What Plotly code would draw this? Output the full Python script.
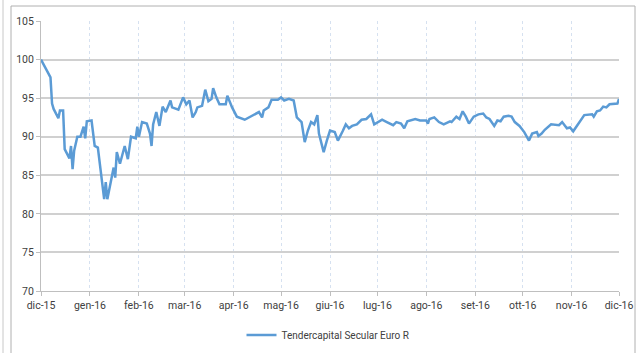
import plotly.graph_objects as go

dates = [
    "2015-12-01", "2015-12-03", "2015-12-06", "2015-12-07", "2015-12-08", "2015-12-09",
    "2015-12-12", "2015-12-13", "2015-12-15", "2015-12-16", "2015-12-19", "2015-12-20",
    "2015-12-21", "2015-12-22", "2015-12-24", "2015-12-26", "2015-12-28", "2015-12-29",
    "2015-12-30", "2016-01-02", "2016-01-04", "2016-01-06", "2016-01-10", "2016-01-11",
    "2016-01-12", "2016-01-14", "2016-01-16", "2016-01-17", "2016-01-18", "2016-01-20",
    "2016-01-23", "2016-01-25", "2016-01-27", "2016-01-30", "2016-01-31", "2016-02-01",
    "2016-02-03", "2016-02-06", "2016-02-08", "2016-02-09", "2016-02-10", "2016-02-12",
    "2016-02-14", "2016-02-16", "2016-02-18", "2016-02-21", "2016-02-22", "2016-02-26",
    "2016-02-29", "2016-03-02", "2016-03-04", "2016-03-06", "2016-03-08", "2016-03-09",
    "2016-03-12", "2016-03-14", "2016-03-16", "2016-03-18", "2016-03-19", "2016-03-21",
    "2016-03-23", "2016-03-27", "2016-03-28", "2016-03-31", "2016-04-03", "2016-04-08",
    "2016-04-13", "2016-04-17", "2016-04-19", "2016-04-20", "2016-04-23", "2016-04-25",
    "2016-04-29", "2016-05-01", "2016-05-03", "2016-05-06", "2016-05-09", "2016-05-11",
    "2016-05-14", "2016-05-15", "2016-05-16", "2016-05-18", "2016-05-20", "2016-05-22",
    "2016-05-24", "2016-05-25", "2016-05-28", "2016-05-30", "2016-06-01", "2016-06-04",
    "2016-06-06", "2016-06-09", "2016-06-11", "2016-06-13", "2016-06-15", "2016-06-18",
    "2016-06-21", "2016-06-24", "2016-06-27", "2016-06-29", "2016-07-04", "2016-07-07",
    "2016-07-11", "2016-07-13", "2016-07-16", "2016-07-18", "2016-07-20", "2016-07-25",
    "2016-07-28", "2016-08-01", "2016-08-02", "2016-08-03", "2016-08-06", "2016-08-09",
    "2016-08-12", "2016-08-16", "2016-08-17", "2016-08-20", "2016-08-22", "2016-08-24",
    "2016-08-26", "2016-08-28", "2016-08-31", "2016-09-03", "2016-09-06", "2016-09-08",
    "2016-09-10", "2016-09-13", "2016-09-15", "2016-09-17", "2016-09-19", "2016-09-22",
    "2016-09-24", "2016-09-26", "2016-09-29", "2016-10-02", "2016-10-05", "2016-10-07",
    "2016-10-10", "2016-10-11", "2016-10-13", "2016-10-15", "2016-10-17", "2016-10-19",
    "2016-10-24", "2016-10-26", "2016-10-29", "2016-10-31", "2016-11-02", "2016-11-05",
    "2016-11-09", "2016-11-14", "2016-11-15", "2016-11-17", "2016-11-19", "2016-11-21",
    "2016-11-23", "2016-11-25", "2016-11-30", "2016-12-01",
]

values = [
    100.0, 99.2, 98.1, 97.7, 94.3, 93.6,
    92.4, 93.4, 93.4, 88.4, 87.2, 88.8,
    85.8, 88.2, 90.0, 90.0, 91.3, 89.8,
    92.0, 92.1, 88.8, 88.6, 81.9, 84.1,
    81.9, 83.9, 86.0, 84.7, 88.0, 86.5,
    88.8, 87.1, 90.0, 89.8, 91.3, 90.0,
    91.9, 91.7, 90.4, 88.8, 91.6, 93.2,
    91.4, 93.9, 93.2, 94.7, 93.8, 93.5,
    95.1, 94.2, 94.7, 92.5, 93.2, 93.8,
    94.0, 96.1, 94.6, 94.9, 96.3, 95.1,
    94.2, 94.2, 95.3, 93.8, 92.6, 92.2,
    92.7, 93.2, 92.5, 93.4, 93.8, 94.8,
    94.8, 95.1, 94.7, 94.9, 94.7, 92.5,
    91.9, 90.8, 89.3, 90.8, 91.9, 91.6,
    92.8, 90.4, 88.0, 89.5, 90.8, 90.6,
    89.5, 90.7, 91.6, 91.1, 91.4, 91.6,
    92.2, 92.3, 92.9, 91.6, 92.2, 91.9,
    91.5, 91.9, 91.7, 91.1, 92.0, 92.3,
    92.1, 92.1, 91.7, 92.3, 92.5, 91.9,
    91.6, 92.0, 91.9, 92.6, 92.3, 93.3,
    92.6, 91.7, 92.6, 92.9, 93.0, 92.5,
    92.3, 91.4, 92.1, 92.0, 92.6, 92.7,
    92.6, 91.9, 91.4, 90.6, 89.5, 90.4,
    90.6, 90.1, 90.4, 90.9, 91.3, 91.6,
    91.5, 91.9, 91.1, 91.2, 90.7, 91.6,
    92.8, 92.9, 92.6, 93.3, 93.4, 93.9,
    93.8, 94.2, 94.3, 94.9,
]

tick_dates = ["2015-12-01", "2016-01-01", "2016-02-01", "2016-03-01", "2016-04-01",
              "2016-05-01", "2016-06-01", "2016-07-01", "2016-08-01", "2016-09-01",
              "2016-10-01", "2016-11-01", "2016-12-01"]
tick_labels = ["dic-15", "gen-16", "feb-16", "mar-16", "apr-16", "mag-16", "giu-16",
               "lug-16", "ago-16", "set-16", "ott-16", "nov-16", "dic-16"]
y_ticks = [70, 75, 80, 85, 90, 95, 100, 105]
series_name = "Tendercapital Secular Euro R"

FONT = "Roboto, Open Sans, sans-serif"

fig = go.Figure()
fig.add_trace(go.Scatter(
    x=dates, y=values, mode="lines", name=series_name,
    line=dict(color="#5b9bd5", width=2.5),
))

W, H = 640, 353
L, R, T, B = 41, 21, 21, 62
pw, ph = W - L - R, H - T - B

def px_x(p):
    return (p - L) / pw

def px_y(p):
    return (H - B - p) / ph

shapes = [
    dict(type="rect", xref="paper", yref="paper",
         x0=px_x(11), x1=px_x(635), y0=px_y(370), y1=px_y(6),
         line=dict(color="#b0b0b0", width=1), fillcolor="rgba(0,0,0,0)", layer="below"),
    dict(type="line", xref="paper", yref="paper",
         x0=px_x(3), x1=px_x(3), y0=px_y(360), y1=px_y(-5),
         line=dict(color="#c8c8c8", width=1)),
    dict(type="line", xref="paper", yref="y", x0=0, x1=1, y0=100, y1=100,
         line=dict(color="#9a9a9a", width=1), layer="below"),
]

fig.update_layout(
    template="none",
    width=W, height=H,
    margin=dict(l=L, r=R, t=T, b=B, autoexpand=False),
    paper_bgcolor="white", plot_bgcolor="white",
    font=dict(family=FONT, size=10, color="#404040"),
    showlegend=True,
    legend=dict(orientation="h", xref="container", yref="container",
                x=328 / W, y=(H - 335) / H, xanchor="center", yanchor="middle",
                itemwidth=30, font=dict(size=10, color="#404040"),
                bgcolor="rgba(0,0,0,0)"),
    shapes=shapes,
)
fig.update_xaxes(
    type="date", range=["2015-12-01", "2016-12-01"],
    tickvals=tick_dates, ticktext=tick_labels, automargin=False,
    showgrid=True, gridcolor="#d6e1f0", griddash="dot", gridwidth=1,
    showline=True, linecolor="#bfbfbf", linewidth=1,
    ticks="outside", ticklen=4, tickcolor="#bfbfbf",
    zeroline=False, tickfont=dict(size=10.5, color="#404040"),
)
fig.update_yaxes(
    range=[70, 105], tickvals=y_ticks, automargin=False,
    showgrid=True, gridcolor="#d0d0d0", gridwidth=1.5,
    showline=True, linecolor="#bfbfbf", linewidth=1,
    ticks="outside", ticklen=4, tickcolor="#bfbfbf",
    zeroline=False, tickfont=dict(size=10.5, color="#404040"),
)

fig.write_html(
    "out.html",
    config={"displayModeBar": False},
    post_script="document.body.style.margin='0px';document.body.style.overflow='hidden';",
)
